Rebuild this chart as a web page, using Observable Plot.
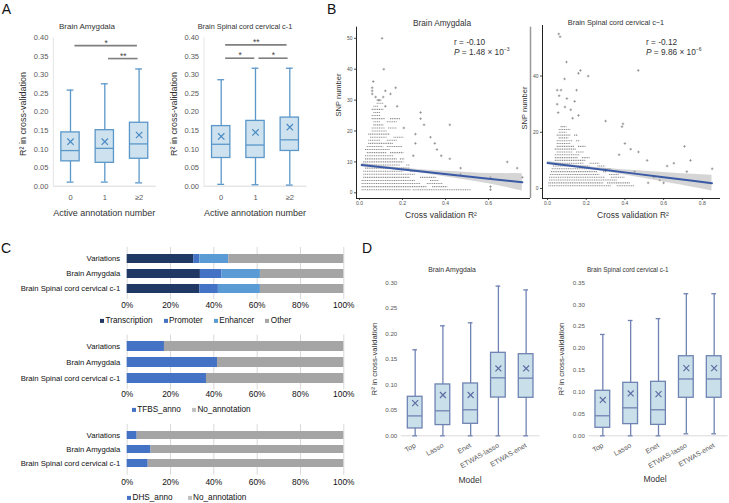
<!DOCTYPE html>
<html><head><meta charset="utf-8">
<script src="https://cdn.jsdelivr.net/npm/d3@7"></script>
<script src="https://cdn.jsdelivr.net/npm/@observablehq/plot@0.6"></script>
<style>
body{margin:0;background:#fff;}
#fig{position:relative;width:729px;height:503px;overflow:hidden;background:#fff;}
</style></head><body><div id="fig"></div>
<script>
// ---------------- Panel A data ----------------
const annotCats = ["0", "1", "≥2"];
// [low whisker, Q1, median, Q3, high whisker, mean]
const aAmygdala = [
  [0.011, 0.067, 0.096, 0.145, 0.259, 0.120],
  [0.011, 0.063, 0.102, 0.151, 0.276, 0.120],
  [0.009, 0.074, 0.114, 0.171, 0.316, 0.138]
];
const aSpinal = [
  [0.005, 0.076, 0.113, 0.162, 0.287, 0.134],
  [0.004, 0.076, 0.111, 0.176, 0.318, 0.145],
  [0.003, 0.095, 0.125, 0.185, 0.318, 0.159]
];
const aTicks = [0, 0.05, 0.10, 0.15, 0.20, 0.25, 0.30, 0.35, 0.40];
// significance brackets: [from, to, y, label]
const aAmygdalaSig = [[0.13, 1.95, 0.379, "*"], [1.11, 1.97, 0.344, "**"]];
const aSpinalSig = [[0.13, 1.92, 0.381, "**"], [0.13, 0.98, 0.345, "*"], [1.10, 1.95, 0.345, "*"]];

// ---------------- Panel B data ----------------
// dense rows of points: [SNP number, R2 start, R2 end]
const bAmyRows = [
  [1,0.012,0.24],[1,0.25,0.52],[2,0.012,0.315],[2,0.34,0.41],[3,0.012,0.284],[3,0.315,0.39],
  [4,0.012,0.26],[4,0.33,0.37],[5,0.02,0.237],[5,0.284,0.36],[6,0.02,0.26],[7,0.02,0.206],[7,0.237,0.315],
  [8,0.028,0.237],[9,0.028,0.19],[9,0.22,0.237],[10,0.02,0.206],[11,0.028,0.175],[11,0.19,0.21],
  [12,0.028,0.16],[13,0.036,0.129],[13,0.144,0.206],[14,0.028,0.144],[15,0.036,0.113],[15,0.129,0.2],
  [16,0.043,0.16],[17,0.043,0.098],[17,0.129,0.175],[18,0.051,0.129],[18,0.16,0.206],[19,0.043,0.144],
  [20,0.059,0.129],[21,0.059,0.12],[21,0.135,0.175],[22,0.067,0.113],[23,0.067,0.098],[23,0.129,0.175],
  [24,0.059,0.12],[24,0.144,0.19],[25,0.059,0.098],[26,0.067,0.098],[27,0.059,0.113],[28,0.067,0.09],
  [29,0.082,0.113],[30,0.082,0.105]
];
// scattered points: [R2, SNP number]
const bAmyPoints = [
  [0.609,1],[0.609,2],[0.609,5],[0.47,6],[0.47,8],[0.36,14],[0.687,10],[0.733,8],[0.757,5],[0.38,12],
  [0.42,11],[0.30,22],[0.42,22],[0.284,24],[0.284,26],[0.206,21],[0.175,28],[0.12,28],[0.144,32],[0.168,34],
  [0.12,33],[0.064,36],[0.059,33],[0.059,34],[0.059,32],[0.113,40],[0.105,50],[0.075,31],[0.11,31],[0.09,30],
  [0.35,16],[0.33,18],[0.26,16],[0.25,12],[0.26,19]
];
// regression fit: [R2, fit, lower, upper]
const bAmyFit = [[0.01,9.0,8.4,9.6],[0.15,7.95,7.55,8.35],[0.3,6.83,6.25,7.4],[0.45,5.7,4.6,6.8],[0.6,4.58,2.9,6.25],[0.757,3.4,0.6,6.2]];

const bSpiRows = [
  [1,0.007,0.33],[1,0.36,0.45],[2,0.007,0.29],[2,0.31,0.43],[3,0.01,0.36],[4,0.01,0.30],[4,0.33,0.40],
  [5,0.015,0.27],[5,0.32,0.37],[6,0.02,0.26],[6,0.29,0.31],[7,0.024,0.25],[7,0.29,0.33],[8,0.03,0.22],[8,0.26,0.30],
  [9,0.03,0.19],[9,0.22,0.27],[10,0.04,0.20],[11,0.04,0.16],[11,0.18,0.22],[12,0.04,0.17],[13,0.05,0.13],[13,0.15,0.19],
  [14,0.04,0.15],[15,0.05,0.14],[15,0.16,0.20],[16,0.05,0.12],[17,0.05,0.13],[17,0.15,0.17],[18,0.06,0.11],
  [19,0.05,0.12],[19,0.14,0.16],[20,0.06,0.10],[21,0.06,0.12],[22,0.07,0.10]
];
const bSpiPoints = [
  [0.058,55],[0.065,54],[0.098,45],[0.088,39],[0.17,42],[0.16,41],[0.21,40],[0.469,42],[0.30,24],[0.39,23],
  [0.385,22],[0.708,15],[0.739,10],[0.653,9],[0.515,10],[0.72,6],[0.618,8],[0.851,7],[0.05,35],[0.07,35],
  [0.15,35],[0.06,33],[0.10,32],[0.14,31],[0.05,30],[0.09,29],[0.055,27],[0.12,28],[0.16,26],[0.13,25],
  [0.43,14],[0.47,13],[0.40,16],[0.37,12],[0.45,6],[0.55,4],[0.58,3],[0.6,2],[0.52,2]
];
const bSpiFit = [[0.0,9.1,8.5,9.7],[0.15,7.83,7.43,8.23],[0.3,6.56,5.96,7.16],[0.45,5.29,4.19,6.39],[0.6,4.02,2.32,5.72],[0.75,2.75,0.45,5.05],[0.85,1.9,-0.9,4.7]];

// ---------------- Panel C data ----------------
const cRows = ["Variations", "Brain Amygdala", "Brain Spinal cord cervical c-1"];
const cFuncSeries = ["Transcription", "Promoter", "Enhancer", "Other"];
const cFuncValues = [[0.307,0.028,0.134,0.531],[0.338,0.100,0.177,0.385],[0.335,0.086,0.194,0.385]];
const cTfbsSeries = ["TFBS_anno", "No_annotation"];
const cTfbsValues = [[0.172,0.828],[0.417,0.583],[0.366,0.634]];
const cDhsSeries = ["DHS_anno", "No_annotation"];
const cDhsValues = [[0.046,0.954],[0.110,0.890],[0.097,0.903]];
const cTicks = [0, 0.2, 0.4, 0.6, 0.8, 1];

// ---------------- Panel D data ----------------
const modelCats = ["Top", "Lasso", "Enet", "ETWAS-lasso", "ETWAS-enet"];
const dAmygdala = [
  [0, 0.0144, 0.039, 0.0765, 0.1686, 0.064],
  [0, 0.021, 0.049, 0.1007, 0.2157, 0.080],
  [0, 0.0235, 0.051, 0.1026, 0.2216, 0.080],
  [0, 0.075, 0.1137, 0.1627, 0.2935, 0.132],
  [0, 0.0745, 0.113, 0.160, 0.286, 0.132]
];
const dSpinal = [
  [0, 0.0183, 0.0458, 0.103, 0.2318, 0.082],
  [0, 0.0267, 0.064, 0.1212, 0.2638, 0.0968],
  [0, 0.025, 0.0595, 0.1235, 0.268, 0.0953],
  [0.0046, 0.087, 0.130, 0.182, 0.325, 0.1548],
  [0.0046, 0.087, 0.130, 0.182, 0.325, 0.1548]
];
const dAmyTicks = [0, 0.05, 0.10, 0.15, 0.20, 0.25, 0.30];
const dSpiTicks = [0, 0.05, 0.10, 0.15, 0.20, 0.25, 0.30, 0.35];

// ---------------- helpers ----------------
const fig = document.getElementById("fig");
const SANS = "'Liberation Sans', Arial, sans-serif";
const NARROW = "'Liberation Sans Narrow', 'Liberation Sans', sans-serif";
function mount(svg, left, top) {
  const d = document.createElement("div");
  d.style.cssText = `position:absolute;left:${left}px;top:${top}px;`;
  d.appendChild(svg); fig.appendChild(d);
}
function txt(html, x, y, o = {}) {
  const d = document.createElement("div");
  const tr = o.rot ? "translate(-50%,-50%) rotate(-90deg)" : o.start ? "translate(0,-50%)" : "translate(-50%,-50%)";
  d.style.cssText = `position:absolute;left:${x}px;top:${y}px;transform:${tr};white-space:nowrap;line-height:1;font-size:${o.size||9}px;color:${o.color||"#333"};font-family:${o.font||SANS};${o.css||""}`;
  d.innerHTML = html; fig.appendChild(d);
}
function legend(labels, colors, x, y, gap) {
  const d = document.createElement("div");
  d.style.cssText = `position:absolute;left:${x}px;top:${y}px;transform:translate(0,-50%);display:flex;align-items:center;font-family:${NARROW};font-size:8.2px;color:#111;white-space:nowrap;line-height:1;`;
  labels.forEach((l, i) => {
    const sq = document.createElement("span");
    sq.style.cssText = `display:inline-block;width:4px;height:4px;background:${colors[i]};margin-right:1.5px;`;
    const t = document.createElement("span");
    t.textContent = l; t.style.marginRight = gap + "px";
    d.appendChild(sq); d.appendChild(t);
  });
  fig.appendChild(d);
}

function boxPlot(cats, boxes, sig, ticks, o) {
  const data = boxes.map((b, i) => ({i, lo: b[0], q1: b[1], med: b[2], q3: b[3], hi: b[4], mean: b[5]}));
  const brackets = sig.map(s => ({a: s[0], b: s[1], y: s[2], t: s[3]}));
  const hw = o.hw, cw = o.cw;
  return Plot.plot({
    width: o.w, height: o.h, marginLeft: o.mL, marginRight: o.mR, marginTop: o.mT, marginBottom: o.mB,
    style: {fontFamily: SANS, fontSize: o.fs + "px", color: o.tc, background: "transparent", maxWidth: "none", overflow: "visible"},
    x: {type: "linear", domain: [-0.5, cats.length - 0.5]},
    y: {domain: [ticks[0], ticks[ticks.length - 1]]},
    marks: [
      Plot.axisX({ticks: d3.range(cats.length), tickFormat: i => cats[i], tickSize: 0, tickPadding: o.xpad,
        tickRotate: o.rot || 0, fontSize: o.xfs, fill: o.tc, label: null}),
      Plot.axisY({ticks, tickFormat: d3.format(".2f"), tickSize: 0, tickPadding: o.ypad, fontSize: o.yfs, fill: o.tc, label: null}),
      Plot.ruleY([0], {stroke: "#d9d9d9", strokeWidth: 1}),
      o.yline ? Plot.ruleX([-0.5], {stroke: "#e6e6e6"}) : null,
      Plot.ruleY(brackets, {x1: "a", x2: "b", y: "y", stroke: "#7f7f7f", strokeWidth: 1.6}),
      Plot.text(brackets, {x: d => (d.a + d.b) / 2, y: "y", text: "t", dy: -2.5, fontSize: o.fs + 1, fill: "#444"}),
      Plot.ruleX(data, {x: "i", y1: "lo", y2: "hi", stroke: o.stroke, strokeWidth: 1.3}),
      Plot.ruleY(data, {x1: d => d.i - cw, x2: d => d.i + cw, y: "hi", stroke: o.stroke, strokeWidth: 1.3}),
      Plot.ruleY(data, {x1: d => d.i - cw, x2: d => d.i + cw, y: "lo", stroke: o.stroke, strokeWidth: 1.3}),
      Plot.rect(data, {x1: d => d.i - hw, x2: d => d.i + hw, y1: "q1", y2: "q3", fill: o.fill, stroke: o.stroke, strokeWidth: 1.3}),
      Plot.ruleY(data, {x1: d => d.i - hw, x2: d => d.i + hw, y: "med", stroke: o.stroke, strokeWidth: 1.3}),
      Plot.dot(data, {x: "i", y: "mean", symbol: "times", r: o.r, stroke: o.mc, strokeWidth: 1.2})
    ].filter(Boolean)
  });
}

function scatterPlot(rows, pts, fit, o) {
  const rowData = rows.map(r => ({s: r[0], a: r[1], b: r[2]}));
  const ptData = pts.map(p => ({v: p[0], s: p[1]}));
  const fitData = fit.map(f => ({v: f[0], f: f[1], lo: f[2], hi: f[3]}));
  return Plot.plot({
    width: o.w, height: o.h, marginLeft: o.mL, marginRight: o.mR, marginTop: o.mT, marginBottom: o.mB,
    style: {fontFamily: SANS, fontSize: "5px", color: "#4d4d4d", background: "transparent", maxWidth: "none", overflow: "visible"},
    x: {domain: o.xd, ticks: o.xt, tickFormat: d3.format(".1f"), tickSize: 2, tickPadding: 1, label: null},
    y: {domain: o.yd, ticks: o.yt, tickSize: 2, tickPadding: 2, label: null},
    marks: [
      Plot.ruleY(rowData, {y: "s", x1: "a", x2: "b", stroke: "#8c8c8c", strokeWidth: 1.1, strokeDasharray: "1.1,0.7"}),
      Plot.dot(ptData, {x: "v", y: "s", symbol: "plus", r: 0.9, stroke: "#707070", strokeWidth: 0.6}),
      Plot.areaY(fitData, {x: "v", y1: "lo", y2: "hi", fill: "#b3b3b3", fillOpacity: 0.55, curve: "monotone-x"}),
      Plot.line(fitData, {x: "v", y: "f", stroke: "#3a5aa6", strokeWidth: 2}),
      Plot.ruleX([o.xd[0]], {stroke: "#222", strokeWidth: 1}),
      Plot.ruleY([o.yd[0]], {stroke: "#222", strokeWidth: 1}),
      o.sep ? Plot.ruleX([o.xd[1]], {stroke: "#999", strokeWidth: 1.5}) : null
    ].filter(Boolean)
  });
}

function stackPlot(series, values, colors, o) {
  const data = [];
  cRows.forEach((r, ri) => series.forEach((s, si) => data.push({row: r, s, v: values[ri][si]})));
  return Plot.plot({
    width: 360, height: o.h, marginLeft: 126.7, marginRight: 16.7, marginTop: o.mT, marginBottom: o.mB,
    style: {fontFamily: NARROW, fontSize: "7.7px", color: "#111", background: "transparent", maxWidth: "none", overflow: "visible"},
    x: {domain: [0, 1]},
    y: {domain: cRows, padding: 0.4},
    color: {domain: series, range: colors},
    marks: [
      Plot.axisX({ticks: cTicks, tickFormat: d3.format(".0%"), tickSize: 0, tickPadding: o.xpad, fontSize: 8.4, fill: "#111", label: null}),
      Plot.axisY({tickSize: 0, tickPadding: 7, fill: "#111", label: null}),
      Plot.ruleX(cTicks, {stroke: "#d9d9d9"}),
      Plot.barX(data, {x: "v", y: "row", fill: "s"})
    ]
  });
}

// ---------------- Panel A ----------------
const aStyle = {w: 180, h: 225, mT: 37.3, mB: 39.3, fs: 7.5, xfs: 7.5, yfs: 7.5, tc: "#595959", xpad: 8, ypad: 5, hw: 0.267, cw: 0.1,
  stroke: "#5b97c9", fill: "#cde2ee", mc: "#4a89c4", r: 3, yline: true};
mount(boxPlot(annotCats, aAmygdala, aAmygdalaSig, aTicks, {...aStyle, mL: 52.85, mR: 24.25}), 0, 0);
mount(boxPlot(annotCats, aSpinal, aSpinalSig, aTicks, {...aStyle, mL: 35.55, mR: 41.55}), 168, 0);
txt("Brain Amygdala", 87, 27, {size: 8});
txt("Brain Spinal cord cervical c-1", 245, 27, {size: 7.3});
txt("Active annotation number", 104.3, 212.7, {size: 9});
txt("Active annotation number", 255, 212.7, {size: 9});
txt("R² in cross-validation", 23, 114, {size: 9, rot: true});
txt("R² in cross-validation", 174, 114, {size: 9, rot: true});

// ---------------- Panel B ----------------
mount(scatterPlot(bAmyRows, bAmyPoints, bAmyFit, {w: 240, h: 230, mL: 56, mR: 10, mT: 26.7, mB: 32,
  xd: [-0.014, 0.795], yd: [-1.84, 53.6], xt: [0, 0.2, 0.4, 0.6], yt: [0, 10, 20, 30, 40, 50], sep: true}), 300, 0);
mount(scatterPlot(bSpiRows, bSpiPoints, bSpiFit, {w: 199, h: 230, mL: 12, mR: 9, mT: 25, mB: 32,
  xd: [-0.026, 0.894], yd: [-3.56, 58], xt: [0, 0.2, 0.4, 0.6, 0.8], yt: [0, 20, 40]}), 530, 0);
txt("Brain Amygdala", 442, 23, {size: 8.3});
txt("Brain Spinal cord cervical c−1", 616, 23, {size: 7.3});
txt("r = -0.10", 454, 42, {size: 8.3, start: true});
txt("<i>P</i> = 1.48 × 10<sup style='font-size:5px'>−3</sup>", 454, 52, {size: 8.3, start: true});
txt("r = -0.12", 646, 42, {size: 8.3, start: true});
txt("<i>P</i> = 9.86 × 10<sup style='font-size:5px'>−6</sup>", 646, 52, {size: 8.3, start: true});
txt("Cross validation R²", 441, 215, {size: 8.5});
txt("Cross validation R²", 633, 215, {size: 8.5});
txt("SNP number", 339, 95, {size: 7.5, rot: true});
txt("SNP number", 525, 108, {size: 7.5, rot: true});

// ---------------- Panel C ----------------
const funcColors = ["#203864", "#4472c4", "#5b9bd5", "#a5a5a5"];
const annoColors = ["#4472c4", "#a5a5a5"];
mount(stackPlot(cFuncSeries, cFuncValues, funcColors, {h: 72, mT: 7, mB: 13, xpad: 2.7}), 0, 240);
mount(stackPlot(cTfbsSeries, cTfbsValues, annoColors, {h: 73, mT: 6.6, mB: 11.7, xpad: 1.7}), 0, 328);
mount(stackPlot(cDhsSeries, cDhsValues, annoColors, {h: 71, mT: 6.8, mB: 13.2, xpad: 4.2}), 0, 417);
legend(cFuncSeries, funcColors, 100, 321, 11);
legend(cTfbsSeries, ["#4472c4", "#bfbfbf"], 131.7, 410, 11);
legend(cDhsSeries, ["#4472c4", "#bfbfbf"], 127, 498, 15);

// ---------------- Panel D ----------------
const dStyle = {w: 180, h: 230, mT: 27.3, mB: 49.7, fs: 6.2, xfs: 7, yfs: 6.2, tc: "#595959", xpad: 9, ypad: 4, hw: 0.265, cw: 0.085,
  stroke: "#6f83b3", fill: "#c9dfe9", mc: "#5b6fa3", r: 2.8, rot: -30};
mount(boxPlot(modelCats, dAmygdala, [], dAmyTicks, {...dStyle, mL: 40.8, mR: 0.5}), 360, 255);
mount(boxPlot(modelCats, dSpinal, [], dSpiTicks, {...dStyle, w: 184, mL: 43.4, mR: 1.4}), 545, 255);
txt("Brain Amygdala", 452, 270, {size: 6.8});
txt("Brain Spinal cord cervical c-1", 627.7, 270, {size: 6.3});
txt("Model", 470, 480, {size: 8.5});
txt("Model", 655, 479, {size: 8.5});
txt("R² in cross-validation", 375, 358.5, {size: 7.8, rot: true});
txt("R² in cross-validation", 561.5, 359, {size: 7.8, rot: true});

// ---------------- Panel letters ----------------
txt("A", 1.7, 8.5, {size: 14, start: true, color: "#111"});
txt("B", 327, 8.5, {size: 14, start: true, color: "#111"});
txt("C", 1, 248, {size: 14, start: true, color: "#111"});
txt("D", 362, 248, {size: 14, start: true, color: "#111"});
</script></body></html>
